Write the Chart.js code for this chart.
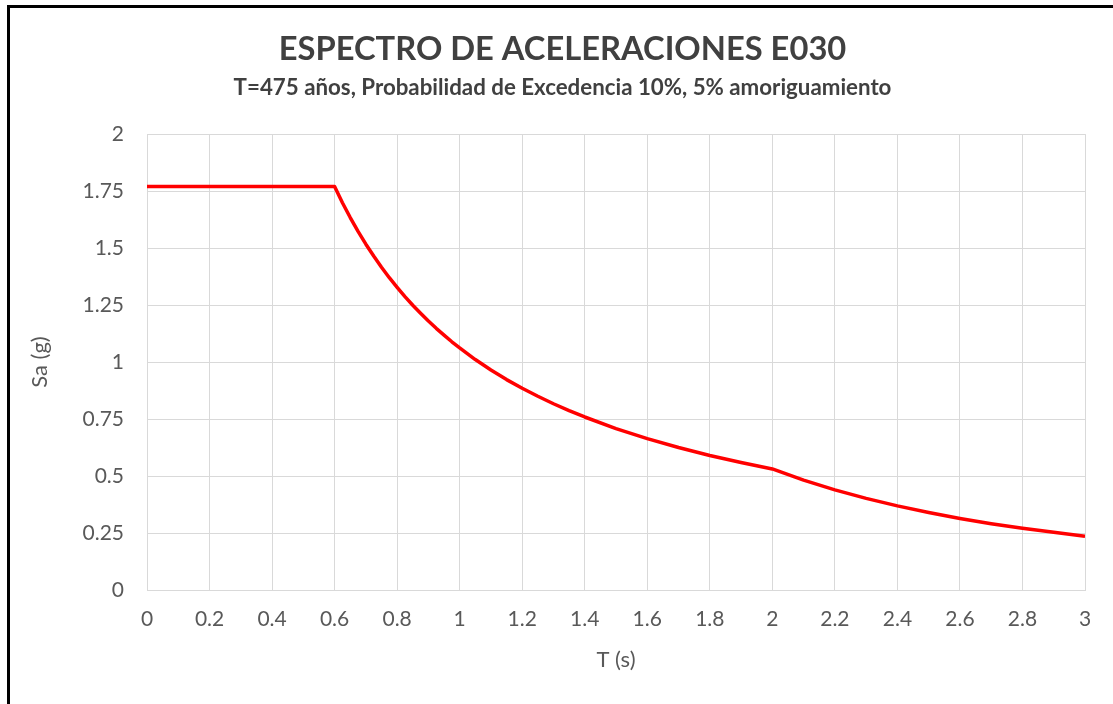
<!DOCTYPE html>
<html>
<head>
<meta charset="utf-8">
<title>Espectro E030</title>
<script src="https://cdn.jsdelivr.net/npm/chart.js@4.4.1/dist/chart.umd.min.js"></script>
<style>
  html, body { margin: 0; padding: 0; background: #fff; }
  #wrap { position: relative; width: 1113px; height: 704px; overflow: hidden; }
  #frame {
    position: absolute; left: 7px; top: 5px; width: 1200px; height: 800px;
    border-left: 3px solid #000; border-top: 3px solid #000; pointer-events: none;
  }
  canvas { position: absolute; left: 0; top: 0; }
</style>
</head>
<body>
<div id="wrap">
  <canvas id="spectrum" width="1113" height="704"></canvas>
  <div id="frame"></div>
</div>
<script>
// Periodo T (s) y aceleración espectral Sa (g)
const periods = [0, 0.6, 0.625, 0.65, 0.675, 0.7, 0.725, 0.75, 0.775, 0.8,
  0.825, 0.85, 0.875, 0.9, 0.925, 0.95, 0.975, 1.0, 1.05, 1.1,
  1.15, 1.2, 1.25, 1.3, 1.35, 1.4, 1.5, 1.6, 1.7, 1.8, 1.9, 2.0,
  2.1, 2.2, 2.3, 2.4, 2.5, 2.6, 2.7, 2.8, 2.9, 3.0];
const saValues = [1.77, 1.77, 1.699, 1.634, 1.573, 1.517, 1.465, 1.416, 1.37, 1.328,
  1.287, 1.249, 1.214, 1.18, 1.148, 1.118, 1.089, 1.062, 1.011, 0.965,
  0.923, 0.885, 0.85, 0.817, 0.787, 0.759, 0.708, 0.664, 0.625, 0.59, 0.559, 0.531,
  0.482, 0.439, 0.402, 0.369, 0.34, 0.314, 0.291, 0.271, 0.253, 0.236];

const xTicks = [0, 0.2, 0.4, 0.6, 0.8, 1, 1.2, 1.4, 1.6, 1.8, 2, 2.2, 2.4, 2.6, 2.8, 3];
const yTicks = [0, 0.25, 0.5, 0.75, 1, 1.25, 1.5, 1.75, 2];

const FONT = 'Lato, "Open Sans", sans-serif';
const GREY = '#595959';
const GRID = '#d9d9d9';

const points = periods.map((t, i) => ({ x: t, y: saValues[i] }));

new Chart(document.getElementById('spectrum'), {
  type: 'scatter',
  data: {
    datasets: [{
      data: points,
      showLine: true,
      borderColor: '#ff0000',
      borderWidth: 3.5,
      pointRadius: 0,
      tension: 0,
      borderJoinStyle: 'round'
    }]
  },
  options: {
    responsive: false,
    animation: false,
    // left padding keeps the titles centred a bit to the right, y axis fills the rest
    layout: { padding: { top: 0, left: 40, right: 28, bottom: 0 } },
    plugins: {
      legend: { display: false },
      tooltip: { enabled: false },
      title: {
        display: true,
        text: 'ESPECTRO DE ACELERACIONES E030',
        color: '#404040',
        font: { family: FONT, size: 32.7, weight: 'bold' },
        padding: { top: 29.5, bottom: 5.6 }
      },
      subtitle: {
        display: true,
        text: 'T=475 años, Probabilidad de Excedencia 10%, 5% amoriguamiento',
        color: '#404040',
        font: { family: FONT, size: 22.3, weight: 'bold' },
        padding: { top: 0, bottom: 33 }
      }
    },
    scales: {
      x: {
        type: 'linear',
        min: 0,
        max: 3,
        afterBuildTicks: s => { s.ticks = xTicks.map(v => ({ value: v })); },
        afterFit: s => { s.height = 114; },
        ticks: {
          color: GREY,
          font: { family: FONT, size: 21 },
          padding: 17,
          maxRotation: 0,
          callback: v => String(v)
        },
        grid: { color: GRID, lineWidth: 1, drawTicks: false },
        border: { color: GRID },
        title: {
          display: true,
          text: 'T (s)',
          color: GREY,
          font: { family: FONT, size: 22 },
          padding: { top: 0, bottom: 31 }
        }
      },
      y: {
        type: 'linear',
        min: 0,
        max: 2,
        afterBuildTicks: s => { s.ticks = yTicks.map(v => ({ value: v })); },
        afterFit: s => { s.width = 107; },
        ticks: {
          color: GREY,
          font: { family: FONT, size: 21 },
          padding: 23,
          callback: v => String(v)
        },
        grid: { color: GRID, lineWidth: 1, drawTicks: false },
        border: { display: false },
        title: {
          display: true,
          text: 'Sa (g)',
          color: GREY,
          font: { family: FONT, size: 22 },
          padding: { top: -13, bottom: 0 }
        }
      }
    }
  }
});
</script>
</body>
</html>
